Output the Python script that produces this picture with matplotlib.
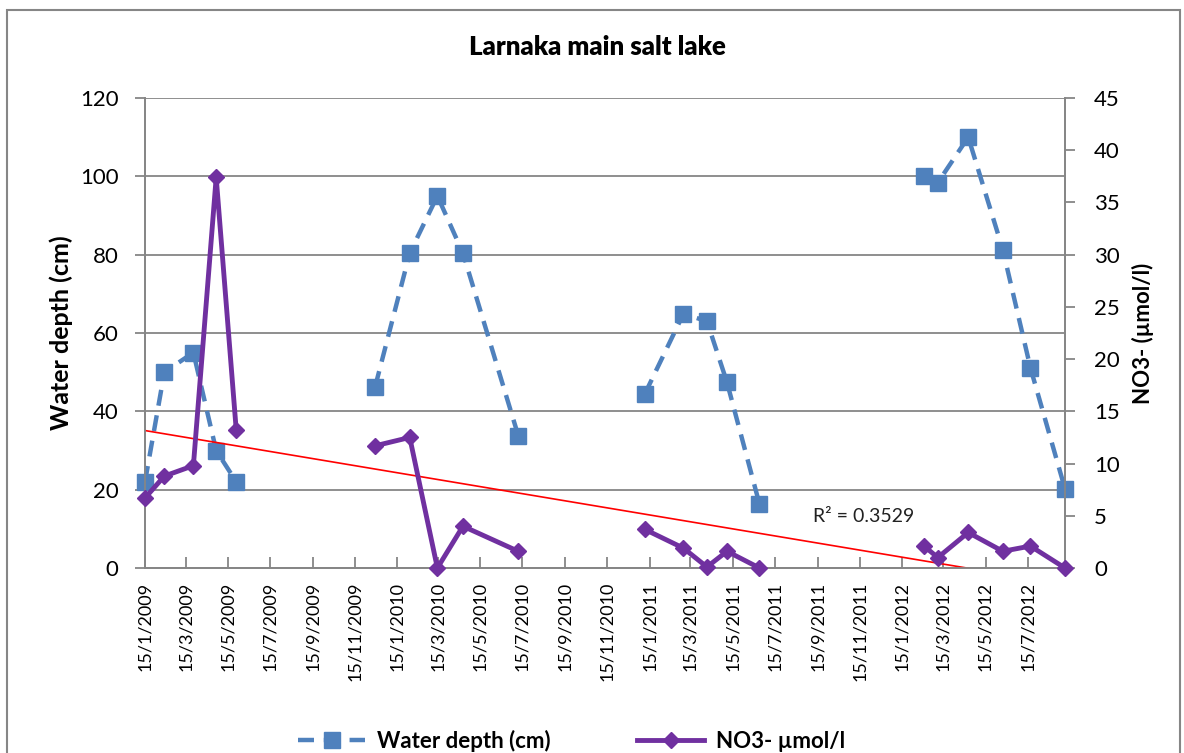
import numpy as np
import pandas as pd
import matplotlib
matplotlib.use("Agg")
import matplotlib.pyplot as plt
import matplotlib.dates as mdates
from matplotlib.patches import Rectangle
from matplotlib.ticker import FuncFormatter, MultipleLocator

plt.rcParams['font.family'] = ['Lato', 'DejaVu Sans']

# sampling dates
dates = ["2009-01-15", "2009-02-12", "2009-03-26", "2009-04-28", "2009-05-27",
         "2009-12-14", "2010-02-02", "2010-03-14", "2010-04-20", "2010-07-09",
         "2011-01-08", "2011-03-05", "2011-04-08", "2011-05-07", "2011-06-23",
         "2012-02-16", "2012-03-07", "2012-04-20", "2012-06-09", "2012-07-19",
         "2012-09-07"]
water_depth = [22, 50, 55, 30, 22,
               46.3, 80.4, 95, 80.4, 33.8,
               44.4, 64.9, 63, 47.4, 16.3,
               100, 98.4, 110, 81.3, 51.1, 20.2]
no3 = [6.7, 8.8, 9.8, 37.4, 13.2,
       11.7, 12.5, 0, 4.0, 1.6,
       3.7, 1.9, 0.1, 1.6, 0,
       2.1, 1.0, 3.4, 1.6, 2.1, 0]
r2_label = "R² = 0.3529"

df = pd.DataFrame({"date": pd.to_datetime(dates), "depth": water_depth, "no3": no3})

# break the lines between sampling seasons (blank cells in the sheet)
rows = []
for i, r in df.iterrows():
    if i > 0 and (r["date"] - df["date"][i - 1]).days > 150:
        rows.append({"date": r["date"] - pd.Timedelta(days=1), "depth": np.nan, "no3": np.nan})
    rows.append(r.to_dict())
plot_df = pd.DataFrame(rows)

blue = "#4F81BD"
purple = "#7030A0"
grey = "#868686"

fig = plt.figure(figsize=(11.84, 7.53), dpi=100)
ax = fig.add_axes([145 / 1184, 1 - 568 / 753, 920 / 1184, 470 / 753])
ax2 = ax.twinx()

# chart area border
fig.patches.append(Rectangle((6.5 / 1184, -0.05), 1173 / 1184, 1.05 - 10 / 753,
                             transform=fig.transFigure, fill=False,
                             edgecolor=grey, lw=1.5))

ax.plot(plot_df["date"], plot_df["depth"], color=blue, lw=3.2, dashes=(3.6, 2.2),
        marker="s", ms=11, mec=blue, mfc=blue, clip_on=False, zorder=3,
        label="Water depth (cm)")
ax2.plot(plot_df["date"], plot_df["no3"], color=purple, lw=3.5,
         marker="D", ms=8, mec=purple, mfc=purple, clip_on=False, zorder=4,
         label="NO3- µmol/l")

# linear trend line on NO3
xn = mdates.date2num(df["date"])
coef = np.polyfit(xn, df["no3"], 1)
xt = np.array([xn.min(), xn.max()])
ax2.plot(xt, np.polyval(coef, xt), color="red", lw=1.2, zorder=2)
ax2.text(0.726, 0.109, r2_label, transform=ax2.transAxes, fontsize=14,
         color="#222222", va="center", ha="left")

ax.set_xlim(xn.min(), xn.max())
ax.set_ylim(0, 120)
ax2.set_ylim(0, 45)
ax.yaxis.set_major_locator(MultipleLocator(20))
ax2.yaxis.set_major_locator(MultipleLocator(5))

ax.xaxis.set_major_locator(mdates.MonthLocator(bymonth=[1, 3, 5, 7, 9, 11], bymonthday=15))
ax.xaxis.set_major_formatter(FuncFormatter(
    lambda v, pos: "{0}/{1}/{2}".format(mdates.num2date(v).day, mdates.num2date(v).month,
                                        mdates.num2date(v).year)))
ax.tick_params(axis="x", direction="in", length=8, width=1.3, color=grey,
               labelsize=13, labelrotation=90, pad=10)
ax.tick_params(axis="y", direction="out", length=7, width=1.3, color=grey,
               labelsize=16, pad=12)
ax2.tick_params(axis="y", direction="out", length=7, width=1.3, color=grey,
                labelsize=16, pad=14)
for t in ax.get_xticklabels():
    t.set_va("top")

ax.grid(axis="y", color=grey, lw=1.3)
ax.set_axisbelow(True)
for a in (ax, ax2):
    for s in a.spines.values():
        s.set_color(grey)
        s.set_linewidth(1.3)
    a.spines["top"].set_visible(False)

ax.set_ylabel("Water depth (cm)", fontsize=18, fontweight="bold", labelpad=5)
ax2.set_ylabel("NO3- (µmol/l)", fontsize=16, fontweight="bold", labelpad=9)
fig.text(597 / 1184, 1 - 47 / 753, "Larnaka main salt lake", fontsize=18.5,
         fontweight="heavy", ha="center", va="center")

h1, l1 = ax.get_legend_handles_labels()
h2, l2 = ax2.get_legend_handles_labels()
leg = fig.legend(h1 + h2, l1 + l2, loc="center", bbox_to_anchor=(0.483, 0.016),
                 ncol=2, frameon=False, handlelength=3.0, handletextpad=0.55,
                 columnspacing=3.9, prop={"size": 16, "weight": "bold"})

fig.savefig("out.png", dpi=100)
